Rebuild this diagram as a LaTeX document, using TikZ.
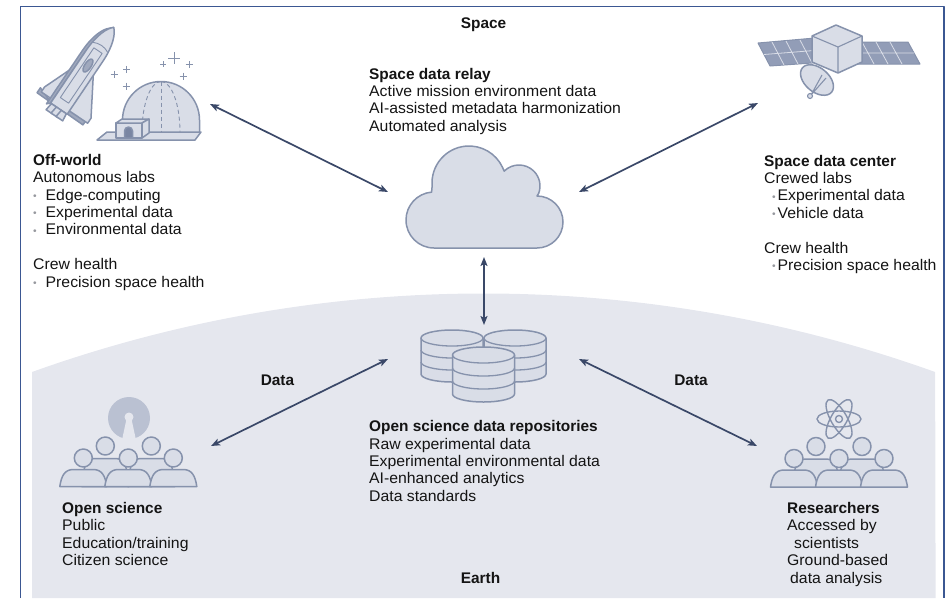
\documentclass[tikz,border=0pt]{standalone}
\usepackage{fontspec}
\setmainfont{Liberation Sans}[FakeStretch=1.025, BoldFeatures={FakeStretch=1.0}]
\usetikzlibrary{arrows.meta}

\definecolor{framecol}{RGB}{59,87,146}
\definecolor{linkcol}{RGB}{58,72,104}
\definecolor{earthcol}{RGB}{229,231,238}
\definecolor{iconfill}{RGB}{217,221,231}
\definecolor{iconline}{RGB}{134,146,172}
\definecolor{icondark}{RGB}{160,169,190}
\definecolor{doorcol}{RGB}{122,134,162}
\definecolor{panelcol}{RGB}{146,157,183}
\definecolor{osicol}{RGB}{186,193,210}
\definecolor{dotgray}{RGB}{150,152,158}
\definecolor{txtcol}{RGB}{20,20,20}

% grey bullet: indent, then box up to the item text
\newcommand{\bul}[2]{\hspace*{#1}\makebox[#2][l]{\raisebox{0.6pt}{\color{dotgray}\normalsize\textbullet}}}

\begin{document}
\begin{tikzpicture}[
        x = 1pt, y = -1pt,
        line join = round,
        % text blocks sit on the baseline of their last line
        txt/.style = {inner sep = 0pt, align = left, anchor = base west, text = txtcol,
                      font = \fontsize{15.4}{17.4}\selectfont},
        hdr/.style = {inner sep = 0pt, anchor = base, text = txtcol,
                      font = \fontsize{15.4}{17.4}\selectfont\bfseries},
        icon/.style = {draw = iconline, fill = iconfill, line width = 1.5pt},
        dome/.style = {iconline, line width = 0.9pt, dash pattern = on 4pt off 3pt},
        link/.style = {linkcol, line width = 1.7pt,
                       {Stealth[length=9pt, width=7pt, inset=2pt]}-{Stealth[length=9pt, width=7pt, inset=2pt]}},
        crowd/.pic = {
            % back row first, front row on top
            \foreach \px/\tp/\hy in {-23/-28/-40.5, 23/-28/-40.5, -45/-17/-28.5, 0/-17/-28.5, 45/-17/-28.5} {
                \filldraw[icon] (\px-23.5,0) .. controls (\px-22,\tp+7) and (\px-19,\tp) .. (\px-10,\tp)
                    -- (\px+10,\tp) .. controls (\px+19,\tp) and (\px+22,\tp+7) .. (\px+23.5,0) -- cycle;
                \filldraw[icon] (\px,\hy) circle[radius=9];
            }
        }
    ]
    \useasboundingbox (0,0) rectangle (950,598);

    % Earth
    \fill[earthcol] (32,598) -- (32,372) arc[start angle=250.27, end angle=289.73, radius=1337.7]
        -- (935.6,598) -- cycle;

    % frame
    \draw[framecol, line width=1.5pt] (20.5,598) -- (20.5,6.5) -- (944,6.5) -- (944,598);

    % shuttle
    \begin{scope}[shift={(60,107)}, rotate=-34]
        \filldraw[icon, fill=icondark] (-11,1) -- (-27,-5) -- (-27,1) -- (29,2) -- (29,-5) -- (5,-48) -- cycle;
        \filldraw[icon] (-8,-48) -- (-24,-8) -- (-24,-2) -- (32,-2) -- (32,-8) -- (8,-48) -- cycle;
        \filldraw[icon, fill=icondark] (-13,5) -- (-13,-59) .. controls (-13,-77) and (-8,-89) .. (-3,-93) -- (0,-96) -- (-10,-62) -- (-10,2) -- cycle;
        \filldraw[icon] (-10,2) -- (-10,-62) .. controls (-10,-80) and (-5,-92) .. (0,-96)
            .. controls (5,-92) and (10,-80) .. (10,-62) -- (10,2) -- cycle;
        \draw[iconline, line width=0.9pt] (-5,-8) rectangle (5,-68);
        \draw[iconline, line width=0.9pt] (-9,-72) .. controls (-3,-75) and (3,-75) .. (9,-72);
        \filldraw[icon, fill=icondark] (0,-50) ellipse[x radius=3.2, y radius=7.5];
        \foreach \n in {-6,0,6}
            \filldraw[icon] (\n-3,2) -- (\n-4,10) -- (\n+4,10) -- (\n+3,2) -- cycle;
    \end{scope}

    % habitat dome
    \filldraw[icon] (107,132) -- (201,132) -- (195,140) -- (97,140) -- cycle;
    \filldraw[icon] (122.5,132) -- (122.5,120) arc[start angle=180, end angle=360, radius=38.5] -- (199.5,132) -- cycle;
    \draw[dome] (161,81.5) -- (161,132);
    \draw[dome] (161,81.5) arc[start angle=270, end angle=180, x radius=19, y radius=50.5];
    \draw[dome] (161,81.5) arc[start angle=270, end angle=360, x radius=19, y radius=50.5];
    \filldraw[icon] (116,123) rectangle (142,138);
    \filldraw[icon] (116,123) -- (122,119) -- (149,119) -- (142,123) -- cycle;
    \filldraw[icon] (142,123) -- (149,119) -- (149,133) -- (142,138) -- cycle;
    \filldraw[icon, fill=doorcol] (124.5,138) -- (124.5,131) arc[start angle=180, end angle=360, radius=4] -- (132.5,138) -- cycle;
    \foreach \sx/\sy/\sr in {114/74/3.5, 126.7/69.3/3.5, 126/86/3.5, 163/64/3, 174/58/6, 189/64.5/3.5, 183/76/3.5}
        \draw[iconline, line width=0.9pt] (\sx-\sr,\sy) -- (\sx+\sr,\sy) (\sx,\sy-\sr) -- (\sx,\sy+\sr);

    % satellite
    \filldraw[draw=iconline, fill=panelcol, line width=1pt] (758,43) -- (815,38) -- (826,62) -- (770,66) -- cycle;
    \filldraw[draw=iconline, fill=panelcol, line width=1pt] (845,42) -- (908,42) -- (920,64) -- (857,64) -- cycle;
    \draw[iconfill, line width=0.8pt] (764,54.5) -- (820.5,50) (851,53) -- (914,53)
        (772,42) -- (784,65) (786,41) -- (798,64) (800,40) -- (812,63)
        (862,42) -- (874,64) (876,42) -- (888,64) (890,42) -- (902,64);
    \filldraw[icon] (836,25) -- (862,36) -- (862,62) -- (838,73) -- (812,62) -- (812,36) -- cycle;
    \draw[iconline, line width=1.1pt] (812,36) -- (838,47) -- (862,36) (838,47) -- (838,73);
    \filldraw[icon, rotate around={-40:(817,80)}] (817,80) ellipse[x radius=19, y radius=12];
    \draw[iconline, line width=1.1pt] (822,75) -- (811,95) (826,78) -- (811,95);
    \filldraw[icon, line width=1.1pt] (810,96) circle[radius=2.5];

    % cloud
    \filldraw[icon] (537,248) -- (434,248) arc[start angle=90, end angle=265, radius=28]
        -- (432.14,186.22) arc[start angle=175, end angle=335, radius=37]
        -- (504.15,171.15) arc[start angle=225, end angle=380, radius=21]
        -- (537,196) arc[start angle=270, end angle=450, radius=26] -- cycle;

    % data repositories
    \foreach \cx/\cy/\dy in {452/338/12, 515/338/12, 483.5/355/13} {
        \filldraw[icon] (\cx-31,\cy) -- (\cx-31,\cy+3*\dy) arc[start angle=180, end angle=0, x radius=31, y radius=8]
            -- (\cx+31,\cy) arc[start angle=0, end angle=-180, x radius=31, y radius=8] -- cycle;
        \foreach \k in {0,1,2}
            \draw[iconline, line width=1.3pt] (\cx-31,\cy+\k*\dy) arc[start angle=180, end angle=0, x radius=31, y radius=8];
    }

    % open science
    \fill[osicol] (129,418) circle[radius=21];
    \fill[earthcol] (129,417) circle[radius=4.5];
    \fill[earthcol] (126.5,419) -- (122,440) -- (136,440) -- (131.5,419) -- cycle;
    \pic at (128.3,486.5) {crowd};

    % researchers
    \foreach \a in {0,60,120}
        \draw[iconline, line width=1.4pt, rotate around={\a:(839,419)}] (839,419) ellipse[x radius=22, y radius=8];
    \draw[iconline, line width=1.4pt] (839,419) circle[radius=3.5];
    \pic at (839,487) {crowd};

    % arrow ends
    \coordinate (owEnd) at (210,104);
    \coordinate (cloudW) at (388,192);
    \coordinate (satEnd) at (758,103);
    \coordinate (cloudE) at (579,192);
    \coordinate (cloudS) at (484,257);
    \coordinate (repoN) at (484,325);
    \coordinate (repoW) at (388,359);
    \coordinate (osEnd) at (211,446);
    \coordinate (repoE) at (579,359);
    \coordinate (resEnd) at (757,446);

    \draw[link] (owEnd) -- (cloudW);
    \draw[link] (satEnd) -- (cloudE);
    \draw[link] (cloudS) -- (repoN);
    \draw[link] (repoW) -- (osEnd);
    \draw[link] (repoE) -- (resEnd);

    % labels
    \node[hdr] (spacelbl) at (483.5,28) {Space};
    \node[hdr] (earthlbl) at (480.5,583) {Earth};
    \node[hdr] (dataL) at (277.5,385) {Data};
    \node[hdr] (dataR) at (691,385) {Data};

    \node[txt] (offworld) at (33,287) {\textbf{Off-world}\\Autonomous labs\\
        \bul{0pt}{12.5pt}Edge-computing\\\bul{0pt}{12.5pt}Experimental data\\
        \bul{0pt}{12.5pt}Environmental data\\[17.4pt]Crew health\\
        \bul{0pt}{12.5pt}Precision space health};
    \node[txt] (relay) at (369,131.2) {\textbf{Space data relay}\\Active mission environment data\\
        AI-assisted metadata harmonization\\Automated analysis};
    \node[txt] (center) at (764,270.4) {\textbf{Space data center}\\Crewed labs\\
        \bul{8pt}{5.5pt}Experimental data\\\bul{8pt}{5.5pt}Vehicle data\\[17.4pt]Crew health\\
        \bul{8pt}{5.5pt}Precision space health};
    \node[txt] (opensci) at (62,565.7) {\textbf{Open science}\\Public\\Education/training\\Citizen science};
    \node[txt] (repo) at (369,501.3) {\textbf{Open science data repositories}\\Raw experimental data\\
        Experimental environmental data\\AI-enhanced analytics\\Data standards};
    \node[txt] (research) at (787,583.1) {\textbf{Researchers}\\Accessed by\\\hspace*{7pt}scientists\\
        Ground-based\\\hspace*{3pt}data analysis};
\end{tikzpicture}
\end{document}
